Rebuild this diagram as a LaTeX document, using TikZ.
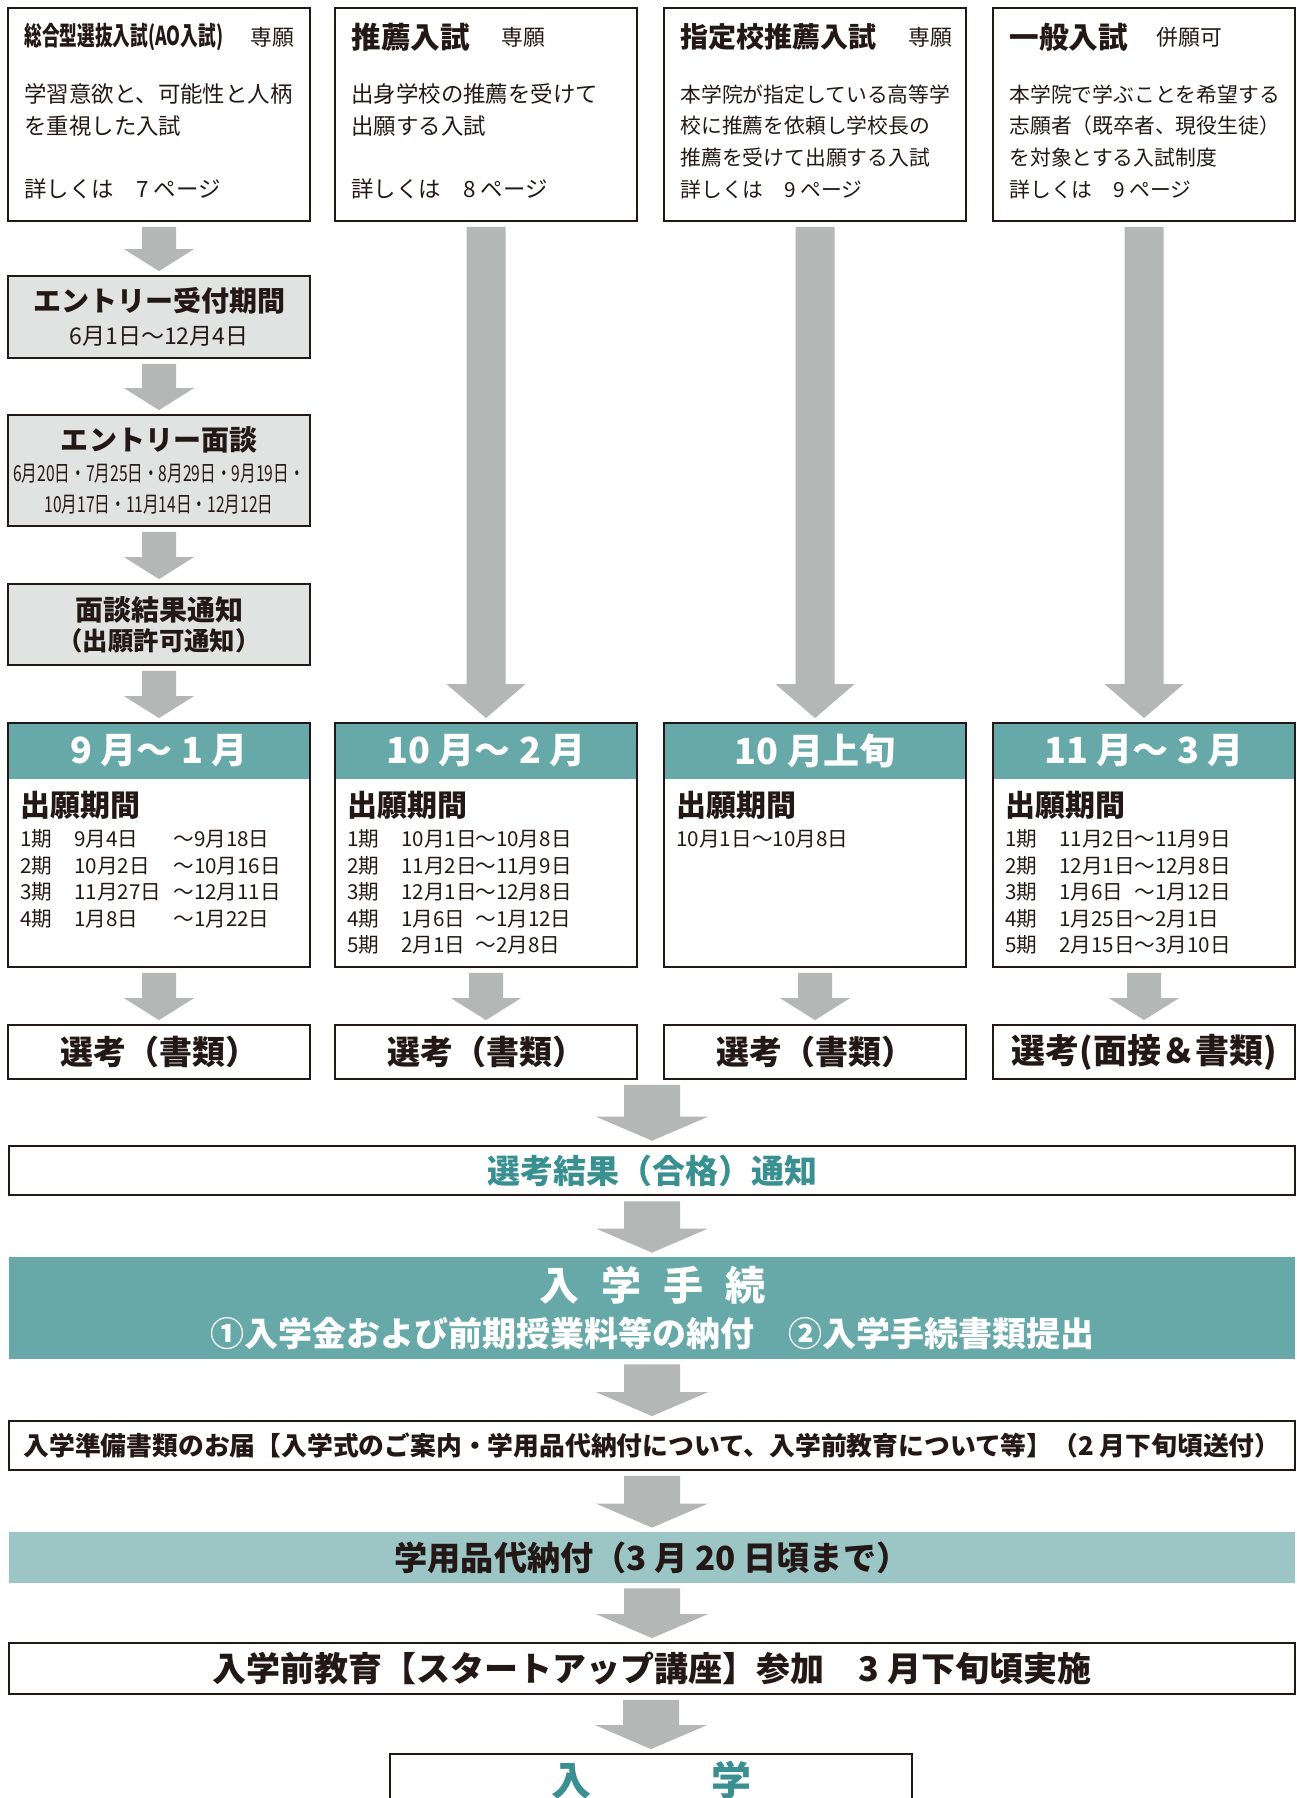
\documentclass[tikz,border=0pt]{standalone}
\usepackage{fontspec}
\setmainfont{Noto Sans CJK JP}
\usepackage{graphicx}
\usetikzlibrary{calc}

\definecolor{inkblack}{HTML}{231815}
\definecolor{headteal}{HTML}{67A8A8}
\definecolor{paleteal}{HTML}{9CC5C5}
\definecolor{textteal}{HTML}{3A9090}
\definecolor{boxgray}{HTML}{E1E2E2}
\definecolor{arrowgray}{HTML}{B5B6B6}

\newcommand{\fs}[2]{\fontsize{#1}{#2}\selectfont}
% block arrow: from, to, shaft half width, head half width, head length
\newcommand{\blockarrow}[5]{%
  \fill[arrowgray] let \p1=(#1.south), \p2=(#2.north) in
    (\x2-#3,\y1-2.5pt) -- (\x2+#3,\y1-2.5pt) -- (\x2+#3,\y2+2pt+#5) -- (\x2+#4,\y2+2pt+#5)
    -- (\x2,\y2+2pt) -- (\x2-#4,\y2+2pt+#5) -- (\x2-#3,\y2+2pt+#5) -- cycle;}

\tikzset{
  lined/.style={draw=inkblack, line width=0.9pt, inner sep=0pt},
  colbox/.style={lined, minimum width=151pt},
  graybox/.style={colbox, fill=boxgray, align=center},
  headband/.style={fill=headteal, inner sep=0pt, minimum width=151pt, minimum height=28pt,
    text=white, font=\fs{18pt}{20pt}\bfseries},
  widebox/.style={lined, minimum width=643pt, minimum height=24.5pt},
  titletext/.style={anchor=west, inner sep=0pt, font=\fs{14.8pt}{17pt}\bfseries},
  tagtext/.style={inner sep=0pt, font=\fs{10.9pt}{13pt}},
  desctext/.style={anchor=north west, inner sep=0pt, align=left, font=\fs{11.2pt}{15.8pt}},
  pagetext/.style={anchor=west, inner sep=0pt, font=\fs{11.2pt}{13pt}},
  kikantext/.style={anchor=west, inner sep=0pt, font=\fs{15pt}{17pt}\bfseries},
  datetext/.style={anchor=north west, inner sep=0pt, font=\fs{10.3pt}{13.2pt}},
  seltext/.style={font=\fs{16.5pt}{18pt}\bfseries}
}

\begin{document}
\begin{tikzpicture}[x=0.5pt, y=-0.5pt, every node/.style={text=inkblack}]
  \clip (0,0) rectangle (1296,1798);

  % kinds of entrance exam
  \node[colbox, minimum height=106.5pt] (ao) at (159,114.5) {};
  \node[colbox, minimum height=106.5pt] (suisen) at (486,114.5) {};
  \node[colbox, minimum height=106.5pt] (shitei) at (815,114.5) {};
  \node[colbox, minimum height=106.5pt] (ippan) at (1144,114.5) {};

  \node[titletext, font=\fs{13pt}{15pt}\bfseries] (aoT) at ($(ao.north west)+(17,30)$) {\scalebox{0.68}[1]{総合型選抜入試(AO入試)}};
  \node[tagtext, anchor=east] (aoS) at ($(ao.north east)+(-16,30)$) {専願};
  \node[desctext] (aoD) at ($(ao.north west)+(17,76)$) {学習意欲と、可能性と人柄\\を重視した入試};
  \node[pagetext] (aoP) at ($(ao.north west)+(17,182)$) {詳しくは　7 ページ};

  \node[titletext] (suisenT) at ($(suisen.north west)+(17,30)$) {推薦入試};
  \node[tagtext, anchor=west] (suisenS) at ($(suisen.north west)+(167,30)$) {専願};
  \node[desctext] (suisenD) at ($(suisen.north west)+(17,76)$) {出身学校の推薦を受けて\\出願する入試};
  \node[pagetext] (suisenP) at ($(suisen.north west)+(17,182)$) {詳しくは　8 ページ};

  \node[titletext, font=\fs{14pt}{17pt}\bfseries] (shiteiT) at ($(shitei.north west)+(17,30)$) {指定校推薦入試};
  \node[tagtext, anchor=east] (shiteiS) at ($(shitei.north east)+(-14,30)$) {専願};
  \node[desctext, font=\fs{10.4pt}{15.8pt}] (shiteiD) at ($(shitei.north west)+(17,77)$) {本学院が指定している高等学\\校に推薦を依頼し学校長の\\推薦を受けて出願する入試};
  \node[pagetext, font=\fs{10.4pt}{13pt}] (shiteiP) at ($(shitei.north west)+(17,182)$) {詳しくは　9 ページ};

  \node[titletext] (ippanT) at ($(ippan.north west)+(17,30)$) {一般入試};
  \node[tagtext, anchor=west] (ippanS) at ($(ippan.north west)+(164,30)$) {併願可};
  \node[desctext, font=\fs{10.4pt}{15.8pt}] (ippanD) at ($(ippan.north west)+(17,77)$) {本学院で学ぶことを希望する\\志願者（既卒者、現役生徒）\\を対象とする入試制度};
  \node[pagetext, font=\fs{10.4pt}{13pt}] (ippanP) at ($(ippan.north west)+(17,182)$) {詳しくは　9 ページ};

  % AO entry steps
  \node[graybox, minimum height=41pt, font=\fs{11.5pt}{16.5pt}] (entry) at (159,317)
    {{\fs{14pt}{16.5pt}\bfseries エントリー受付期間}\\6月1日〜12月4日};
  \node[graybox, minimum height=55.5pt, font=\fs{11pt}{15.5pt}] (mendan) at (159,470.5)
    {{\fs{14pt}{16pt}\bfseries エントリー面談}\\\scalebox{0.71}[1]{6月20日・7月25日・8月29日・9月19日・}\\\scalebox{0.71}[1]{10月17日・11月14日・12月12日}};
  \node[graybox, minimum height=40.5pt, font=\fs{12.7pt}{15pt}\bfseries] (kekka) at (159,624.5)
    {{\fs{14pt}{16pt}面談結果通知}\\（出願許可通知）};

  % application periods
  \node[headband] (h1) at (159,751) {9 月〜 1 月};
  \node[headband] (h2) at (486,751) {10 月〜 2 月};
  \node[headband] (h3) at (815,751) {10 月上旬};
  \node[headband] (h4) at (1144,751) {11 月〜 3 月};
  \node[colbox, minimum height=122pt] (p1) at (159,845) {};
  \node[colbox, minimum height=122pt] (p2) at (486,845) {};
  \node[colbox, minimum height=122pt] (p3) at (815,845) {};
  \node[colbox, minimum height=122pt] (p4) at (1144,845) {};

  \node[kikantext] (k1) at ($(p1.north west)+(13,83)$) {出願期間};
  \node[kikantext] (k2) at ($(p2.north west)+(13,83)$) {出願期間};
  \node[kikantext] (k3) at ($(p3.north west)+(13,83)$) {出願期間};
  \node[kikantext] (k4) at ($(p4.north west)+(13,83)$) {出願期間};

  \node[datetext] (d1) at ($(p1.north west)+(13,106)$) {%
    \begin{tabular}{@{}p{27pt}@{}p{49.5pt}@{}l@{}}
      1期 & 9月4日 & 〜9月18日\\ 2期 & 10月2日 & 〜10月16日\\
      3期 & 11月27日 & 〜12月11日\\ 4期 & 1月8日 & 〜1月22日
    \end{tabular}};
  \node[datetext] (d2) at ($(p2.north west)+(13,106)$) {%
    \begin{tabular}{@{}p{27pt}@{}p{37pt}@{}l@{}}
      1期 & 10月1日 & 〜10月8日\\ 2期 & 11月2日 & 〜11月9日\\
      3期 & 12月1日 & 〜12月8日\\ 4期 & 1月6日 & 〜1月12日\\
      5期 & 2月1日 & 〜2月8日
    \end{tabular}};
  \node[datetext] (d3) at ($(p3.north west)+(13,106)$) {%
    \begin{tabular}{@{}l@{}}10月1日〜10月8日\end{tabular}};
  \node[datetext] (d4) at ($(p4.north west)+(13,106)$) {%
    \begin{tabular}{@{}p{27pt}@{}p{37.5pt}@{}l@{}}
      1期 & 11月2日 & 〜11月9日\\ 2期 & 12月1日 & 〜12月8日\\
      3期 & 1月6日 & 〜1月12日\\ 4期 & 1月25日 & 〜2月1日\\
      5期 & 2月15日 & 〜3月10日
    \end{tabular}};

  % selection
  \node[colbox, minimum height=27pt, seltext] (sel1) at (159,1052) {選考（書類）};
  \node[colbox, minimum height=27pt, seltext] (sel2) at (486,1052) {選考（書類）};
  \node[colbox, minimum height=27pt, seltext] (sel3) at (815,1052) {選考（書類）};
  \node[colbox, minimum height=27pt, seltext, font=\fs{17pt}{18pt}\bfseries] (sel4) at (1144,1052) {選考(面接＆書類)};

  % common steps
  \node[widebox, line width=1.3pt, text=textteal, font=\fs{16.5pt}{18pt}\bfseries] (result) at (652,1170.5) {選考結果（合格）通知};
  \node[fill=headteal, inner sep=0pt, minimum width=643pt, minimum height=51pt, align=center,
    text=white, font=\fs{17pt}{23pt}\bfseries] (tetsuzuki) at (652,1308)
    {{\fs{20pt}{23pt}入\hspace{0.55em}学\hspace{0.55em}手\hspace{0.55em}続}\\①入学金および前期授業料等の納付　②入学手続書類提出};
  \node[widebox, font=\fs{12.9pt}{15pt}\bfseries] (junbi) at (652,1445.5)
    {入学準備書類のお届【入学式のご案内・学用品代納付について、入学前教育について等】（2 月下旬頃送付）};
  \node[fill=paleteal, inner sep=0pt, minimum width=643pt, minimum height=25.5pt,
    font=\fs{16.6pt}{18pt}\bfseries] (yohin) at (652,1557.5) {学用品代納付（3 月 20 日頃まで）};
  \node[widebox, minimum height=25.5pt, font=\fs{17pt}{18pt}\bfseries] (zenkyoiku) at (652,1668.5)
    {入学前教育【スタートアップ講座】参加　3 月下旬頃実施};
  \node[lined, minimum width=261pt, minimum height=26pt, text=textteal, font=\fs{20pt}{22pt}\bfseries] (nyugaku) at (651,1780)
    {入\hspace{3em}学};

  % arrows
  \blockarrow{ao}{entry}{8.5pt}{17.5pt}{11pt}
  \blockarrow{entry}{mendan}{8.5pt}{17.5pt}{11pt}
  \blockarrow{mendan}{kekka}{8.5pt}{17.5pt}{11pt}
  \blockarrow{kekka}{p1}{8.5pt}{17.5pt}{11pt}
  \blockarrow{suisen}{p2}{9.75pt}{19.75pt}{17pt}
  \blockarrow{shitei}{p3}{9.75pt}{19.75pt}{17pt}
  \blockarrow{ippan}{p4}{9.75pt}{19.75pt}{17pt}
  \blockarrow{p1}{sel1}{8.5pt}{17.5pt}{11pt}
  \blockarrow{p2}{sel2}{8.5pt}{17.5pt}{11pt}
  \blockarrow{p3}{sel3}{8.5pt}{17.5pt}{11pt}
  \blockarrow{p4}{sel4}{8.5pt}{17.5pt}{11pt}
  \blockarrow{sel2}{result}{14pt}{28pt}{12pt}
  \blockarrow{result}{tetsuzuki}{14pt}{28pt}{12pt}
  \blockarrow{tetsuzuki}{junbi}{14pt}{28pt}{12pt}
  \blockarrow{junbi}{yohin}{14pt}{28pt}{12pt}
  \blockarrow{yohin}{zenkyoiku}{14pt}{28pt}{12pt}
  \blockarrow{zenkyoiku}{nyugaku}{14pt}{28pt}{12pt}
\end{tikzpicture}
\end{document}
